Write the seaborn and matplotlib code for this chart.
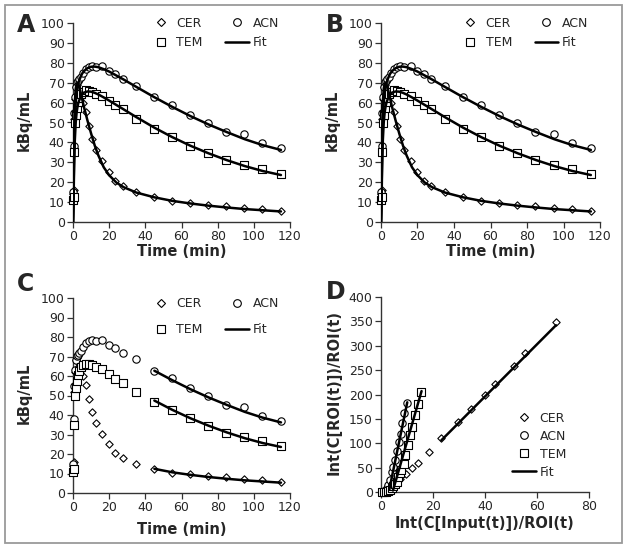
import pandas as pd
import matplotlib.pyplot as plt
import seaborn as sns
from matplotlib.lines import Line2D
from matplotlib.patches import Rectangle

# --- time-activity curves (panels A, B, C) ---
time_min = [0.1, 0.3, 0.6, 1.0, 1.5, 2.0, 2.6, 3.3, 4.4, 5.5, 7.0, 8.8, 10.6, 12.6,
            16.2, 19.9, 23.4, 27.6, 35.0, 44.8, 55.0, 64.6, 74.7, 84.6, 94.8, 104.6, 114.8]
cer_kbq = [14, 16, 52, 62, 68, 69, 67, 65, 63, 60, 55.5, 48, 41.5, 36,
           30.5, 25, 20.5, 18, 15, 12.5, 10.5, 9.5, 8.5, 8, 7, 6.5, 5.5]
acn_kbq = [15, 38, 55, 63, 68, 70.5, 71, 72, 72.8, 75, 77, 77.8, 78.6, 77.8,
           78.3, 75.7, 74.5, 71.9, 68.5, 62.7, 58.9, 53.8, 49.6, 45, 44, 39.5, 37]
tem_kbq = [11, 12.5, 35, 49.7, 54, 57.4, 60.5, 62.5, 64.5, 65.5, 66.2, 66, 65.5, 64.5,
           63.4, 61, 58.6, 56.6, 52, 46.8, 42.6, 38.3, 34.6, 31, 28.5, 26.5, 24]

# model fits
fit_time = [0, 0.25, 0.5, 0.75, 1, 1.5, 2, 2.5, 3, 4, 5, 6, 8, 10, 12, 14, 17, 20,
            24, 28, 35, 45, 55, 65, 75, 85, 95, 105, 115]
cer_fit = [0, 15, 35, 50, 60, 67, 69.5, 70, 69, 66, 62, 58, 51, 44.5, 38.5, 33.5, 27.5,
           23.5, 19.8, 17.5, 14.8, 12.4, 10.6, 9.3, 8.2, 7.3, 6.5, 5.9, 5.3]
acn_fit = [0, 10, 28, 42, 51, 60, 65, 68, 70, 72.5, 74.5, 75.8, 77.3, 78, 78.1, 77.8,
           76.8, 75.6, 73.6, 71.6, 67.9, 62.7, 57.8, 53.2, 49, 45.2, 41.6, 38.6, 36.2]
tem_fit = [0, 8, 22, 33, 41, 50, 55, 58, 60, 62.5, 64, 65, 65.6, 65.5, 64.9, 64.1,
           62.6, 61, 58.8, 56.6, 52.7, 47.4, 42.6, 38.3, 34.5, 31.1, 28.1, 25.6, 23.6]
late_start = 45  # panel C fit only uses late frames

# --- Logan plot (panel D) ---
cer_x = [0.5, 1.0, 1.6, 2.2, 2.8, 3.5, 4.3, 5.2, 6.2, 7.4, 9.6, 11.9, 14.2, 18.3,
         23.2, 29.6, 34.7, 39.9, 43.8, 51.0, 55.5, 67.3]
cer_y = [0, 0.5, 1.5, 3, 5, 7.5, 11, 15, 20, 26, 37.8, 50, 59.7, 82,
         109.8, 142.6, 169.4, 199, 221, 259, 284.6, 347.7]
acn_x = [0.3, 0.8, 1.3, 1.8, 2.2, 2.8, 3.5, 4.1, 4.7, 5.4, 6.3, 6.9, 7.7, 8.2, 9.0, 9.9]
acn_y = [0, 0.5, 2, 4, 8, 14, 25, 41, 52, 65, 84, 102.8, 120, 140.7, 161.3, 181.9]
tem_x = [0.5, 1.2, 2.1, 2.8, 3.4, 4.1, 4.8, 5.5, 6.0, 6.6, 7.2, 7.8, 8.8, 9.4,
         10.3, 11.1, 11.9, 12.9, 14.1, 15.4]
tem_y = [0, 0.5, 1, 2, 4, 8, 12, 16, 21, 31, 38, 45, 58, 75, 96, 116, 133, 157, 180, 205]
cer_fit_x, cer_fit_y = [23.2, 67.3], [106, 342]
acn_fit_x, acn_fit_y = [3.2, 10.1], [5, 184]
tem_fit_x, tem_fit_y = [4.6, 15.6], [3, 207]

sns.set_style("ticks")
plt.rcParams['font.family'] = ['DejaVu Sans']
FS = 9
LFS = 10.5

W, H = 629, 554
fig = plt.figure(figsize=(W / 100, H / 100), dpi=100)


def px_axes(x0, x1, y0, y1):
    # pixel box -> figure fraction
    return fig.add_axes([x0 / W, 1 - y1 / H, (x1 - x0) / W, (y1 - y0) / H])


marker_kw = {'CER': dict(marker='D', s=14), 'ACN': dict(marker='o', s=28), 'TEM': dict(marker='s', s=26)}


def pts(ax, x, y, name):
    sns.scatterplot(x=x, y=y, ax=ax, facecolor='white', edgecolor='black', linewidth=0.8,
                    clip_on=False, zorder=3, **marker_kw[name])


def fit(ax, x, y):
    sns.lineplot(x=x, y=y, ax=ax, color='black', lw=1.8, sort=False, estimator=None, zorder=4)


def handles(order):
    h = {'CER': Line2D([], [], ls='none', marker='D', ms=3.8, mfc='white', mec='black', mew=0.8),
         'ACN': Line2D([], [], ls='none', marker='o', ms=5.5, mfc='white', mec='black', mew=0.8),
         'TEM': Line2D([], [], ls='none', marker='s', ms=5.5, mfc='white', mec='black', mew=0.8),
         'Fit': Line2D([], [], color='black', lw=1.8)}
    return [h[k] for k in order], order


def style(ax, xmax, xstep, ymax, ystep, xlabel, ylabel, ax_h, xlab_off):
    ax.set_xlim(0, xmax)
    ax.set_ylim(0, ymax)
    ax.set_xticks(range(0, xmax + 1, xstep))
    ax.set_yticks(range(0, ymax + 1, ystep))
    sns.despine(ax=ax)
    for s in ['left', 'bottom']:
        ax.spines[s].set_color('#333333')
        ax.spines[s].set_linewidth(1.0)
    ax.tick_params(labelsize=FS, length=4, width=0.9, color='#333333', pad=2)
    ax.set_xlabel(xlabel, fontsize=LFS, fontweight='bold')
    ax.set_ylabel(ylabel, fontsize=LFS, fontweight='bold')
    ax.yaxis.set_label_coords(-0.19, 0.51)
    ax.xaxis.set_label_coords(0.5, -xlab_off / ax_h)


def tac_panel(ax, late_only=False):
    for name, vals in [('CER', cer_kbq), ('ACN', acn_kbq), ('TEM', tem_kbq)]:
        pts(ax, time_min, vals, name)
    for vals in [cer_fit, acn_fit, tem_fit]:
        df = pd.DataFrame({'t': fit_time, 'v': vals})
        if late_only:
            df = df[df['t'] >= late_start]
        fit(ax, df['t'], df['v'])


# A and B
for x0, x1, letter, lx in [(73, 290, 'A', 17), (381, 600, 'B', 326)]:
    ax = px_axes(x0, x1, 23, 222)
    tac_panel(ax)
    style(ax, 120, 20, 100, 10, 'Time (min)', 'kBq/mL', 199, 22)
    h, l = handles(['CER', 'TEM', 'ACN', 'Fit'])
    ax.legend(h, l, ncol=2, frameon=False, loc='center', bbox_to_anchor=(0.65, 0.95),
              fontsize=FS, handlelength=1.9, handletextpad=0.3, columnspacing=1.8,
              labelspacing=0.5)
    fig.text(lx / W, 1 - 25 / H, letter, fontsize=17, fontweight='bold', va='center', ha='left')

# C
ax = px_axes(73, 290, 298, 493)
tac_panel(ax, late_only=True)
style(ax, 120, 20, 100, 10, 'Time (min)', 'kBq/mL', 195, 29)
h, l = handles(['CER', 'TEM', 'ACN', 'Fit'])
ax.legend(h, l, ncol=2, frameon=False, loc='center', bbox_to_anchor=(0.65, 0.905),
          fontsize=FS, handlelength=1.9, handletextpad=0.3, columnspacing=1.8,
          labelspacing=1.05)
fig.text(17 / W, 1 - 284 / H, 'C', fontsize=17, fontweight='bold', va='center', ha='left')

# D
ax = px_axes(381, 589, 297, 492)
pts(ax, cer_x, cer_y, 'CER')
pts(ax, acn_x, acn_y, 'ACN')
pts(ax, tem_x, tem_y, 'TEM')
fit(ax, cer_fit_x, cer_fit_y)
fit(ax, acn_fit_x, acn_fit_y)
fit(ax, tem_fit_x, tem_fit_y)
style(ax, 80, 20, 400, 50, 'Int(C[Input(t)])/ROI(t)', 'Int(C[ROI(t)])/ROI(t)', 195, 24)
h, l = handles(['CER', 'ACN', 'TEM', 'Fit'])
ax.legend(h, l, frameon=False, loc='center', bbox_to_anchor=(0.76, 0.24),
          fontsize=FS, handlelength=1.9, handletextpad=0.3, labelspacing=0.4)
fig.text(326 / W, 1 - 292 / H, 'D', fontsize=17, fontweight='bold', va='center', ha='left')

fig.patches.append(Rectangle((5 / W, 11 / H), 617 / W, 538 / H, transform=fig.transFigure,
                             fill=False, edgecolor='#9a9a9a', lw=1.3))

fig.savefig('out.png', dpi=100)
